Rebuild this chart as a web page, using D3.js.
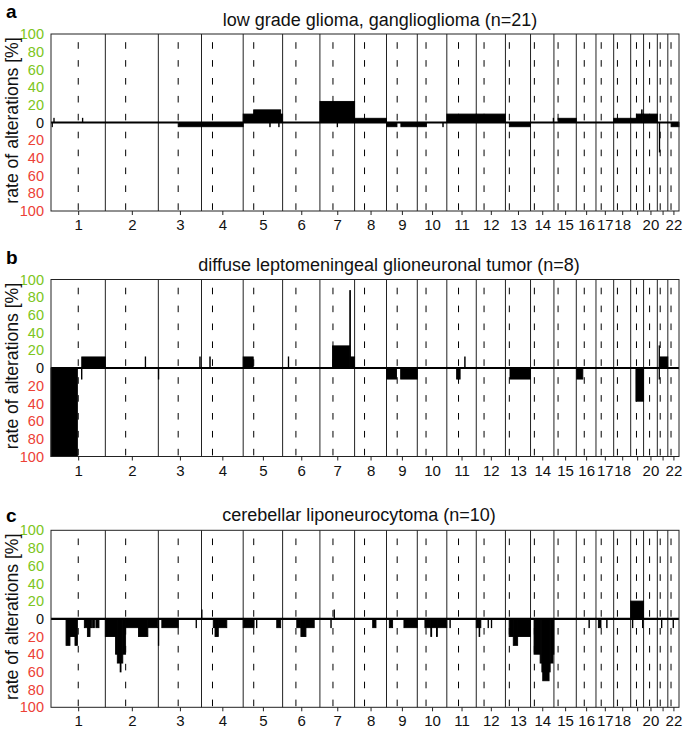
<!DOCTYPE html>
<html><head><meta charset="utf-8">
<script src="https://cdn.jsdelivr.net/npm/d3@7"></script>
<style>
body{margin:0;background:#fff}
svg{display:block}
text{font-family:"Liberation Sans",Arial,Helvetica,sans-serif}
</style>
</head><body>
<svg id="chart" width="685" height="731"></svg>
<script>
// ---- chromosomes (hg19 lengths, Mb) ----
const chromosomes = ["1","2","3","4","5","6","7","8","9","10","11","12","13","14","15","16","17","18","19","20","21","22"];
const chrLengths = [249.25,243.20,198.02,191.15,180.92,171.12,159.14,146.36,141.21,135.53,135.01,133.85,115.17,107.35,102.53,90.35,81.20,78.08,59.13,63.03,48.13,51.30];
const centromeres = [125.0,93.3,91.0,50.4,48.4,61.0,59.9,45.6,49.0,40.2,53.7,35.8,17.9,17.6,19.0,36.6,24.0,17.2,26.5,27.5,13.2,14.7];
const xTickLabels = ["1","2","3","4","5","6","7","8","9","10","11","12","13","14","15","16","17","18","","20","","22"];

const yTickValues = [100,80,60,40,20,0,-20,-40,-60,-80,-100];
const yTickLabels = ["100","80","60","40","20","0","20","40","60","80","100"];

const panelLetters = ["a","b","c"];
const panelTitles = [
  "low grade glioma, ganglioglioma (n=21)",
  "diffuse leptomeningeal glioneuronal tumor (n=8)",
  "cerebellar liponeurocytoma (n=10)"
];

// ---- segments: [chromosome, start Mb, end Mb, % of cases] ----
const gainsA = [
  [1,13,14.5,4.76],[1,144,146,4.76],
  [5,0,48,9.52],[5,48,172,14.29],[5,172,180.92,9.52],
  [7,0,159.14,23.81],
  [8,0,146.36,4.76],
  [11,0,135.01,9.52],[12,0,133.85,9.52],
  [14,104,106,4.76],[15,19,102.53,4.76],
  [18,0,78.08,4.76],
  [19,0,26,4.76],[19,26,50,9.52],[19,50,52.5,14.29],[19,52.5,59.13,9.52],
  [20,0,63.03,9.52]
];
const lossesA = [
  [1,5,6.5,4.76],
  [3,91,198.02,4.76],[4,0,191.15,4.76],
  [5,122,124,4.76],[5,163,165,4.76],
  [7,79,81,4.76],
  [9,0,48,4.76],[9,66,141.21,4.76],[10,0,42,4.76],[10,117,119,4.76],
  [13,18,115.17,4.76],
  [21,9,11,33.33],
  [22,15,51.3,4.76]
];

const gainsB = [
  [1,141,249.25,12.5],[2,183,185,12.5],[3,190,192,12.5],[4,38,40,12.5],
  [5,0,46,12.5],[6,26,28,12.5],
  [7,58,137,25],[7,137,140,87.5],[7,140,159.14,12.5],
  [11,82,84,12.5],
  [21,8,10,25],[21,12,48.13,12.5]
];
const lossesB = [
  [1,0,121,100],[1,140,142,12.5],[3,0,2,12.5],
  [9,0,46,12.5],[9,65,141.21,12.5],
  [11,45,61,12.5],[13,21,115.17,12.5],[16,2,30,12.5],
  [19,24,59.13,37.5],[21,8,10,12.5]
];

const gainsC = [
  [4,0.5,2.5,10],[7,65,67,10],[19,0,59.13,20]
];
const lossesC = [
  [1,69,87,30],[1,87,110,20],[1,110,121,30],[1,153,167,10],[1,167,179,20],[1,179,187,10],[1,191,199,10],[1,206,220,10],
  [2,0,47,20],[2,47,55,40],[2,55,68,50],[2,68,72,60],[2,72,80,50],[2,80,93,40],[2,93,152,10],[2,152,195,20],[2,195,240,10],
  [3,0,2,30],[3,16,92,10],[3,173,175,10],
  [4,54,62,10],[4,62,77,20],[4,77,116,10],
  [5,0,50,10],[5,61,63,10],[5,154,172,10],
  [6,65,84,10],[6,84,107,20],[6,107,145,10],
  [7,50,52,10],
  [8,83,98,10],
  [9,13,28,10],[9,80,141.21,10],
  [10,35,62,10],[10,62,66,20],[10,66,88,10],[10,88,92,20],[10,92,135.53,10],
  [11,14,16,10],
  [12,0,13,10],[12,13,16,20],[12,16,21,10],[12,54,56,10],[12,69,71,10],
  [13,17,36,20],[13,36,56,30],[13,56,115.17,20],
  [14,16,44,40],[14,44,52,50],[14,52,56,60],[14,56,85,70],[14,85,90,60],[14,90,103,50],[14,103,107.35,40],
  [16,58,60,10],
  [17,11,23,10],[17,49,51,10],
  [19,8,10,10],[19,54,56,10],
  [21,19,21,10],
  [22,24,26,10]
];

const panelGains = [gainsA, gainsB, gainsC];
const panelLosses = [lossesA, lossesB, lossesC];

// ---- layout ----
const svg = d3.select("#chart");
const left = 51, right = 679, plotH = 177;
const panelTops = [34, 279.5, 530.3];
const titleX = [380, 389, 359];
const titleY = [26, 271, 521];
const letterY = [18, 264, 522];
const green = "#7cc520", red = "#ec4136";

const offsets = [0, ...d3.cumsum(chrLengths)];
const total = offsets[offsets.length - 1];
const x = d3.scaleLinear().domain([0, total]).range([left, right]);
const gx = (c, pos) => x(offsets[c - 1] + pos);

panelTops.forEach((top, p) => {
  const y = d3.scaleLinear().domain([-100, 100]).range([top + plotH, top]);
  const g = svg.append("g");

  // centromere dashed lines
  g.selectAll("line.cen").data(centromeres).join("line")
    .attr("x1", (d, i) => gx(i + 1, d)).attr("x2", (d, i) => gx(i + 1, d))
    .attr("y1", y(100)).attr("y2", y(-100))
    .attr("stroke", "#000").attr("stroke-width", 1)
    .attr("stroke-dasharray", "6.6 11.3").attr("stroke-dashoffset", 9.7);

  // chromosome boundaries
  g.selectAll("line.chr").data(offsets.slice(1, -1)).join("line")
    .attr("x1", d => x(d)).attr("x2", d => x(d))
    .attr("y1", y(100)).attr("y2", y(-100))
    .attr("stroke", "#222").attr("stroke-width", 1);

  // gains
  g.selectAll("rect.gain").data(panelGains[p]).join("rect")
    .attr("x", d => gx(d[0], d[1]))
    .attr("width", d => Math.max(0.01, gx(d[0], d[2]) - gx(d[0], d[1])))
    .attr("y", d => y(d[3]))
    .attr("height", d => y(0) - y(d[3]))
    .attr("fill", "#000").attr("stroke", "#000").attr("stroke-width", 0.9);

  // losses
  g.selectAll("rect.loss").data(panelLosses[p]).join("rect")
    .attr("x", d => gx(d[0], d[1]))
    .attr("width", d => Math.max(0.01, gx(d[0], d[2]) - gx(d[0], d[1])))
    .attr("y", y(0))
    .attr("height", d => y(-d[3]) - y(0))
    .attr("fill", "#000").attr("stroke", "#000").attr("stroke-width", 0.9);

  // zero line
  g.append("line").attr("x1", left).attr("x2", right)
    .attr("y1", y(0)).attr("y2", y(0))
    .attr("stroke", "#000").attr("stroke-width", 2.2);

  // frame
  g.append("rect").attr("x", left).attr("y", top)
    .attr("width", right - left).attr("height", plotH)
    .attr("fill", "none").attr("stroke", "#222").attr("stroke-width", 1);

  // x axis
  const centers = chrLengths.map((L, i) => offsets[i] + L / 2);
  const xa = g.append("g").attr("transform", `translate(0,${top + plotH})`)
    .call(d3.axisBottom(x).tickValues(centers).tickSize(4).tickPadding(4.5)
      .tickFormat((d, i) => xTickLabels[i]));
  xa.select(".domain").remove();
  xa.selectAll("text").attr("font-size", 15).attr("fill", "#111");
  xa.selectAll("line").attr("stroke", "#222");

  // y axis
  const ya = g.append("g").attr("transform", `translate(${left},0)`)
    .call(d3.axisLeft(y).tickValues(yTickValues).tickSize(0).tickPadding(7)
      .tickFormat((d, i) => yTickLabels[i]));
  ya.select(".domain").remove();
  ya.selectAll("text").attr("font-size", 14.5)
    .attr("fill", d => d > 0 ? green : d < 0 ? red : "#111");

  // y title
  g.append("text")
    .attr("transform", `translate(17.5,${y(0) - 2}) rotate(-90)`)
    .attr("text-anchor", "middle").attr("font-size", 17.6).attr("fill", "#111")
    .text("rate of alterations [%]");

  // panel title
  g.append("text").attr("x", titleX[p]).attr("y", titleY[p])
    .attr("text-anchor", "middle").attr("font-size", 18).attr("fill", "#111")
    .text(panelTitles[p]);

  // panel letter
  g.append("text").attr("x", 6).attr("y", letterY[p])
    .attr("font-size", 19).attr("font-weight", "bold").attr("fill", "#000")
    .text(panelLetters[p]);
});
</script>
</body></html>
